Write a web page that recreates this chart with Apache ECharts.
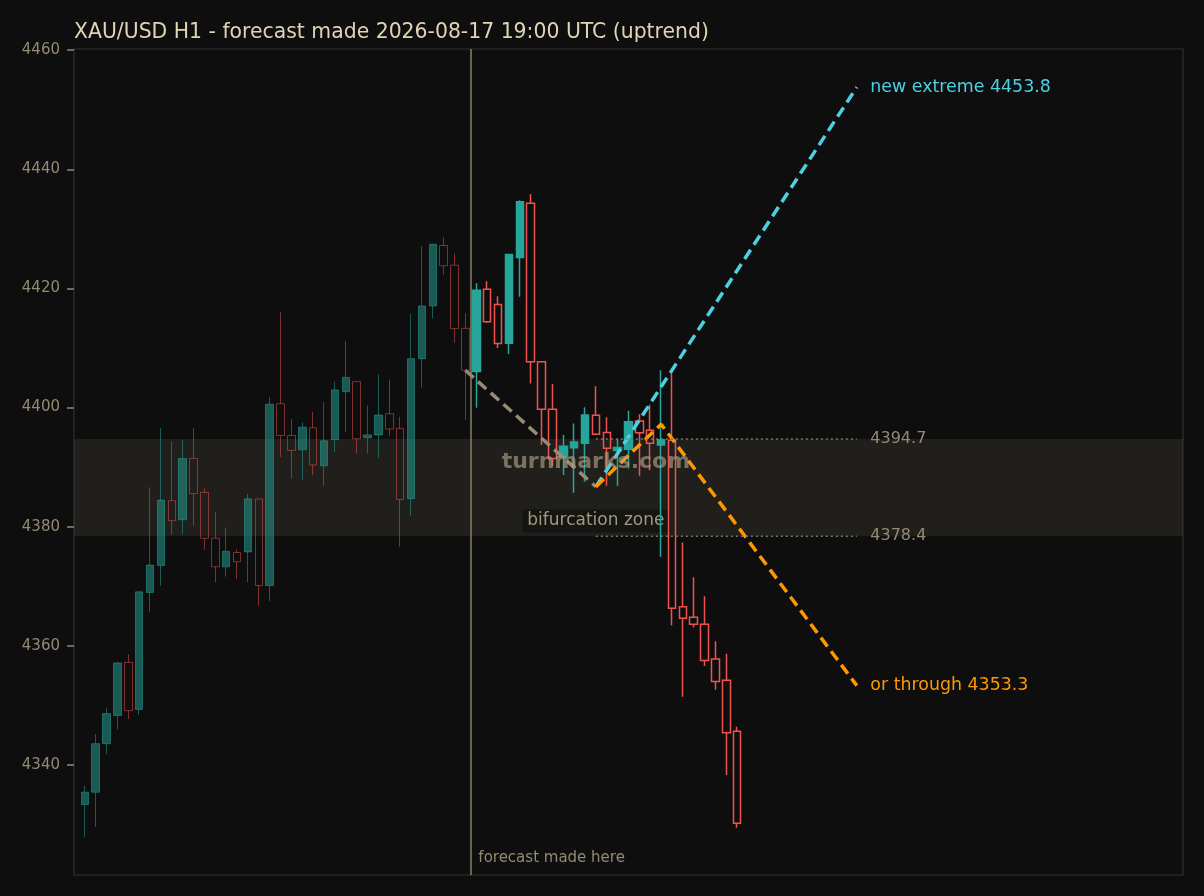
<!DOCTYPE html>
<html>
<head>
<meta charset="utf-8">
<title>XAU/USD H1 forecast</title>
<script src="https://cdn.jsdelivr.net/npm/echarts@6/dist/echarts.min.js"></script>
<style>
  html, body { margin: 0; padding: 0; background: #0e0e0e; }
  #chart { width: 1204px; height: 896px; }
</style>
</head>
<body>
<div id="chart"></div>
<script>
// hourly candles, index 0..60
var opens  = [4333.35, 4335.4, 4343.55, 4348.3, 4357.2, 4349.3, 4368.95, 4373.45, 4384.35, 4381.15,
              4391.45, 4385.75, 4378.05, 4373.25, 4375.65, 4375.75, 4384.65, 4370.1, 4400.65, 4395.3,
              4392.9, 4396.6, 4390.2, 4394.6, 4402.65, 4404.35, 4394.9, 4395.4, 4398.95, 4396.5,
              4384.7, 4408.2, 4417.05, 4427.2, 4423.9, 4413.3, 4406.05, 4419.85, 4417.3, 4410.8,
              4425.2, 4434.3, 4407.7, 4399.7, 4391.7, 4393.25, 4394.0, 4398.7, 4395.8, 4392.8,
              4393.0, 4397.75, 4396.2, 4393.7, 4394.5, 4366.55, 4364.8, 4363.6, 4357.75, 4354.2,
              4345.65];
var closes = [4335.4, 4343.55, 4348.6, 4357.1, 4349.1, 4369.05, 4373.55, 4384.45, 4381.0, 4391.45,
              4385.55, 4378.05, 4373.25, 4375.85, 4374.1, 4384.65, 4370.1, 4400.55, 4395.3, 4392.8,
              4396.7, 4390.35, 4394.4, 4402.95, 4405.05, 4394.75, 4395.4, 4398.75, 4396.4, 4384.55,
              4408.2, 4417.05, 4427.4, 4423.8, 4413.25, 4406.25, 4419.7, 4414.4, 4410.75, 4425.7,
              4434.55, 4407.7, 4399.7, 4391.45, 4393.5, 4394.2, 4398.75, 4395.5, 4393.15, 4393.3,
              4397.6, 4395.75, 4394.0, 4394.6, 4366.3, 4364.6, 4363.6, 4357.5, 4354.0, 4345.4,
              4330.2];
var lows   = [4327.85, 4329.55, 4341.8, 4345.95, 4347.7, 4348.35, 4365.6, 4370.1, 4378.7, 4378.7,
              4380.1, 4376.05, 4370.65, 4371.6, 4371.15, 4370.65, 4366.7, 4367.5, 4391.7, 4388.1,
              4387.85, 4388.65, 4386.85, 4392.5, 4395.9, 4392.3, 4392.3, 4391.55, 4395.25, 4376.65,
              4381.8, 4403.35, 4414.95, 4422.35, 4410.9, 4397.95, 4399.95, 4414.25, 4410.0, 4409.0,
              4418.6, 4404.05, 4393.7, 4390.15, 4388.65, 4385.7, 4387.55, 4395.4, 4386.85, 4386.85,
              4389.75, 4388.55, 4389.45, 4374.95, 4363.4, 4351.45, 4363.05, 4356.6, 4352.6, 4338.3,
              4329.45];
var highs  = [4336.5, 4345.15, 4349.5, 4357.3, 4358.55, 4369.05, 4386.6, 4396.6, 4394.3, 4394.6,
              4396.5, 4386.45, 4382.5, 4379.8, 4376.15, 4385.45, 4384.65, 4401.8, 4416.05, 4398.05,
              4397.5, 4399.3, 4400.95, 4404.3, 4411.2, 4404.35, 4400.35, 4405.55, 4404.7, 4398.45,
              4415.75, 4427.1, 4427.5, 4428.55, 4425.85, 4415.8, 4420.85, 4421.2, 4418.7, 4425.7,
              4434.8, 4435.8, 4407.7, 4403.95, 4395.4, 4397.3, 4400.05, 4403.55, 4398.35, 4394.7,
              4399.45, 4398.85, 4400.45, 4406.25, 4405.95, 4377.35, 4371.5, 4368.3, 4360.75, 4358.65,
              4346.4];

var lastKnown = 35;        // candles up to here were known when the forecast was made
var forecastAt = 35.5;     // vertical marker
var pathStart = [35, 4406.25];
var pivot = [47, 4386.7];
var upEnd = [71, 4453.8];
var downPeak = [53, 4397.2];
var downEnd = [71, 4353.3];
var zoneTop = 4394.7;
var zoneBottom = 4378.4;
var yTicks = [4340, 4360, 4380, 4400, 4420, 4440, 4460];
var yMin = 4321.5, yMax = 4460.2;

var TEAL = '#26a69a', RED = '#ef5350', CYAN = '#4dd0e1', ORANGE = '#ff9800';
var TAN = '#978d74', MUTED = '#948a74';
var FONT = 'DejaVu Sans';

var chart = echarts.init(document.getElementById('chart'));

var candleData = opens.map(function (o, i) {
  var item = { value: [i, o, closes[i], lows[i], highs[i]] };
  if (i <= lastKnown) item.itemStyle = { opacity: 0.5, borderWidth: 1 };
  return item;
});

function dashed(data, color, type, width) {
  return {
    type: 'line', data: data, symbol: 'none', z: 4, silent: true,
    lineStyle: { color: color, width: width || 3.5, type: type || [11, 6] }
  };
}

function textPoint(pos, text, color, extra) {
  var label = Object.assign({
    show: true, position: 'right', distance: 13, formatter: text,
    color: color, fontFamily: FONT, fontSize: 16
  }, extra || {});
  return { value: pos, label: label };
}

var option = {
  backgroundColor: '#0e0e0e',
  animation: false,
  title: {
    text: 'XAU/USD H1 - forecast made 2026-08-17 19:00 UTC (uptrend)',
    left: 74, top: 23, padding: 0,
    textStyle: { color: '#e0d4b4', fontFamily: FONT, fontSize: 20.4, fontWeight: 'normal' }
  },
  grid: {
    left: 74, top: 49, right: 21, bottom: 21,
    show: true, borderColor: '#303030', borderWidth: 1.2, backgroundColor: '#0e0e0e'
  },
  xAxis: { type: 'value', min: -1, max: 101, show: false },
  yAxis: {
    type: 'value', min: yMin, max: yMax,
    axisLine: { show: false, onZero: false },
    splitLine: { show: false },
    axisTick: { show: true, inside: false, length: 7, customValues: yTicks,
                lineStyle: { color: MUTED, width: 1.5 } },
    axisLabel: { customValues: yTicks, color: MUTED, fontFamily: FONT, fontSize: 15, margin: 14,
                 formatter: function (v) { return String(v); } }
  },
  series: [
    {
      // bifurcation band + forecast marker
      type: 'line', data: [], z: 1, silent: true,
      markArea: {
        silent: true,
        itemStyle: { color: 'rgba(160,148,120,0.13)' },
        data: [[{ yAxis: zoneBottom }, { yAxis: zoneTop }]]
      },
      markLine: {
        silent: true, symbol: 'none', label: { show: false },
        lineStyle: { color: '#8a806a', width: 1.5, type: 'solid' },
        data: [{ xAxis: forecastAt }]
      }
    },
    {
      type: 'scatter', z: 2, symbolSize: 1, silent: true,
      itemStyle: { color: 'rgba(0,0,0,0)', opacity: 1 },
      data: [
        textPoint([pivot[0], zoneBottom + 2.55], 'bifurcation zone', '#a09880', {
          position: 'inside', fontSize: 17, backgroundColor: 'rgba(12,12,11,0.55)',
          padding: [3, 5], borderRadius: 3
        }),
        textPoint([forecastAt, yMin + 2.9], 'forecast made here', MUTED, { distance: 7, fontSize: 15 })
      ]
    },
    {
      type: 'candlestick', z: 3, barWidth: 8,
      encode: { x: 0, y: [1, 2, 3, 4] },
      itemStyle: {
        color: TEAL, color0: 'rgba(0,0,0,0)',
        borderColor: TEAL, borderColor0: RED, borderWidth: 1.5
      },
      data: candleData
    },
    dashed([pathStart, pivot], TAN),
    dashed([pivot, upEnd], CYAN),
    dashed([pivot, downPeak, downEnd], ORANGE),
    dashed([[pivot[0], zoneTop], [upEnd[0], zoneTop]], '#7d7560', [2, 3], 1.5),
    dashed([[pivot[0], zoneBottom], [upEnd[0], zoneBottom]], '#7d7560', [2, 3], 1.5),
    {
      type: 'scatter', z: 6, symbolSize: 1, silent: true,
      itemStyle: { color: 'rgba(0,0,0,0)', opacity: 1 },
      data: [
        textPoint(upEnd, 'new extreme ' + upEnd[1].toFixed(1), CYAN, { fontSize: 17.4 }),
        textPoint(downEnd, 'or through ' + downEnd[1].toFixed(1), ORANGE, { fontSize: 17.4 }),
        textPoint([upEnd[0], zoneTop], zoneTop.toFixed(1), MUTED),
        textPoint([upEnd[0], zoneBottom], zoneBottom.toFixed(1), MUTED),
        textPoint([pivot[0], (yMin + yMax) / 2], 'turnmarks.com', 'rgba(170,160,130,0.65)', {
          position: 'inside', fontSize: 22, fontWeight: 'bold'
        })
      ]
    }
  ]
};

chart.setOption(option);
</script>
</body>
</html>
